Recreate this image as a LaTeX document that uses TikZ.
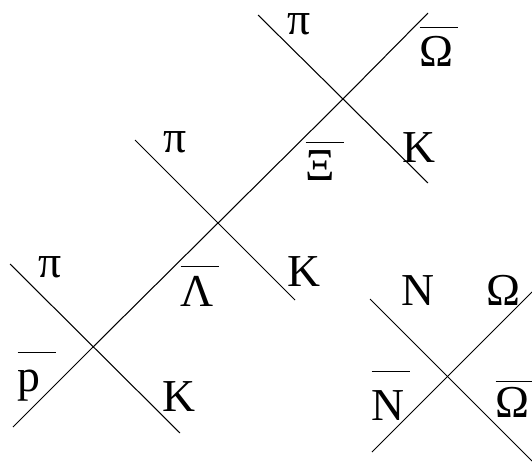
\documentclass[tikz,border=0pt]{standalone}
\usepackage{fontspec}
\setmainfont{Liberation Serif}
\newcommand{\anti}[2][0.78cm]{\rlap{\rule[#1]{0.76cm}{0.8pt}}#2}

\begin{document}
\begin{tikzpicture}[x=0.02cm, y=-0.02cm, line width=0.6pt,
    lbl/.style={anchor=base west, inner sep=0pt, font=\fontsize{26}{30}\selectfont}]
        % \draw[help lines, gray!50, very thin] (0,0) grid[step=50] (532,463);
        \useasboundingbox (0,0) rectangle (532,463);

        % chain of three vertices
        \coordinate (low) at (13,427);
        \coordinate (v1) at (93,347);
        \coordinate (v2) at (218,223);
        \coordinate (v3) at (343,99);
        \coordinate (high) at (428,13);
        \draw (low) -- (v1) -- (v2) -- (v3) -- (high);

        \coordinate (a1) at (10,264);
        \coordinate (b1) at (180,433);
        \draw (a1) -- (b1);
        \node[lbl] (pi1) at (38,277) {π};
        \node[lbl] (pbar) at (17,392) {\anti{p}};
        \node[lbl] (k1) at (162,412) {K};
        \node[lbl] (lbar) at (180,306) {\anti{Λ}};

        \coordinate (a2) at (135,140);
        \coordinate (b2) at (295,300);
        \draw (a2) -- (b2);
        \node[lbl] (pi2) at (163,153) {π};
        \node[lbl] (xbar) at (305,180) {\anti[0.74cm]{Ξ}};
        \node[lbl] (k2) at (287,286) {K};

        \coordinate (a3) at (258,15);
        \coordinate (b3) at (428,183);
        \draw (a3) -- (b3);
        \node[lbl] (pi3) at (287,34) {π};
        \node[lbl] (obar) at (419,67) {\anti{Ω}};
        \node[lbl] (k3) at (402,162) {K};

        % annihilation
        \coordinate (c1) at (370,299);
        \coordinate (d1) at (532,461);
        \coordinate (c2) at (372,452);
        \coordinate (d2) at (532,292);
        \draw (c1) -- (d1);
        \draw (c2) -- (d2);
        \node[lbl] (n) at (401,305) {N};
        \node[lbl] (om) at (486,305) {Ω};
        \node[lbl] (nbar) at (371,420) {\anti[0.96cm]{N}};
        \node[lbl] (ombar) at (495,418) {\anti[0.72cm]{Ω}};
      \end{tikzpicture}
\end{document}
